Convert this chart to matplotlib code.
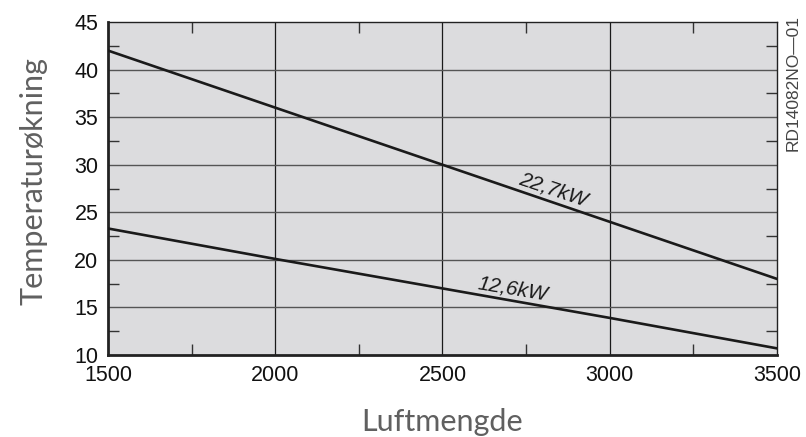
import matplotlib
matplotlib.use("Agg")
import matplotlib.pyplot as plt
from matplotlib.ticker import MultipleLocator

plt.rcParams["font.family"] = ["Liberation Sans", "DejaVu Sans"]

# Air flow (x) and temperature rise (y) for two heater outputs
airflow = [1500, 2000, 2500, 3000, 3500]
rise_22_7 = [42.0, 36.0, 30.0, 24.0, 18.0]
rise_12_6 = [23.3, 20.1, 17.0, 13.9, 10.7]
series_labels = ["22,7kW", "12,6kW"]
x_ticks = [1500, 2000, 2500, 3000, 3500]
y_ticks = [10, 15, 20, 25, 30, 35, 40, 45]

fig = plt.figure(figsize=(8.06, 4.37), dpi=100)
ax = fig.add_axes([0.134, 0.1876, 0.830, 0.762])
ax.set_facecolor("#dcdcde")

ax.set_xlim(1500, 3500)
ax.set_ylim(10, 45)
ax.set_xticks(x_ticks)
ax.set_yticks(y_ticks)
ax.xaxis.set_minor_locator(MultipleLocator(250))
ax.yaxis.set_minor_locator(MultipleLocator(2.5))

# grid: vertical lines black, horizontal lines grey
for xv in x_ticks[1:-1]:
    ax.axvline(xv, color="#1a1a1a", lw=0.9, zorder=1)
for yv in y_ticks[1:-1]:
    ax.axhline(yv, color="#555555", lw=1.0, zorder=1)

ax.tick_params(axis="both", which="major", length=0, labelsize=15.5,
               labelcolor="#111111")
ax.tick_params(axis="x", which="major", pad=7)
ax.tick_params(axis="y", which="major", pad=7)
ax.tick_params(axis="both", which="minor", direction="in", length=8, width=1,
               color="#333333", top=True, right=True, bottom=True, left=True)

for side, lw in (("left", 2.0), ("bottom", 2.0), ("top", 1.0), ("right", 1.0)):
    ax.spines[side].set_linewidth(lw)
    ax.spines[side].set_color("#222222")

ax.plot(airflow, rise_22_7, color="#1a1a1a", lw=1.9, zorder=3)
ax.plot(airflow, rise_12_6, color="#1a1a1a", lw=1.9, zorder=3)

ax.text(2830, 27.4, series_labels[0], fontsize=15, style="italic",
        rotation=-18.5, ha="center", va="center",
        color="#1a1a1a", zorder=4)
ax.text(2710, 16.9, series_labels[1], fontsize=15, style="italic",
        rotation=-9.5, ha="center", va="center",
        color="#1a1a1a", zorder=4)

ax.set_xlabel("Luftmengde", fontsize=22, family="Lato", fontweight="normal",
              color="#606060")
ax.set_ylabel("Temperaturøkning", fontsize=22, family="Lato", fontweight="normal",
              color="#606060")
ax.xaxis.set_label_coords(0.5, -0.158)
ax.yaxis.set_label_coords(-0.09, 0.522)

fig.text(0.984, 0.965, "RD14082NO\u201401", rotation=90, ha="center", va="top",
         fontsize=12.5, color="#444444")

fig.savefig("out.png", dpi=100)
